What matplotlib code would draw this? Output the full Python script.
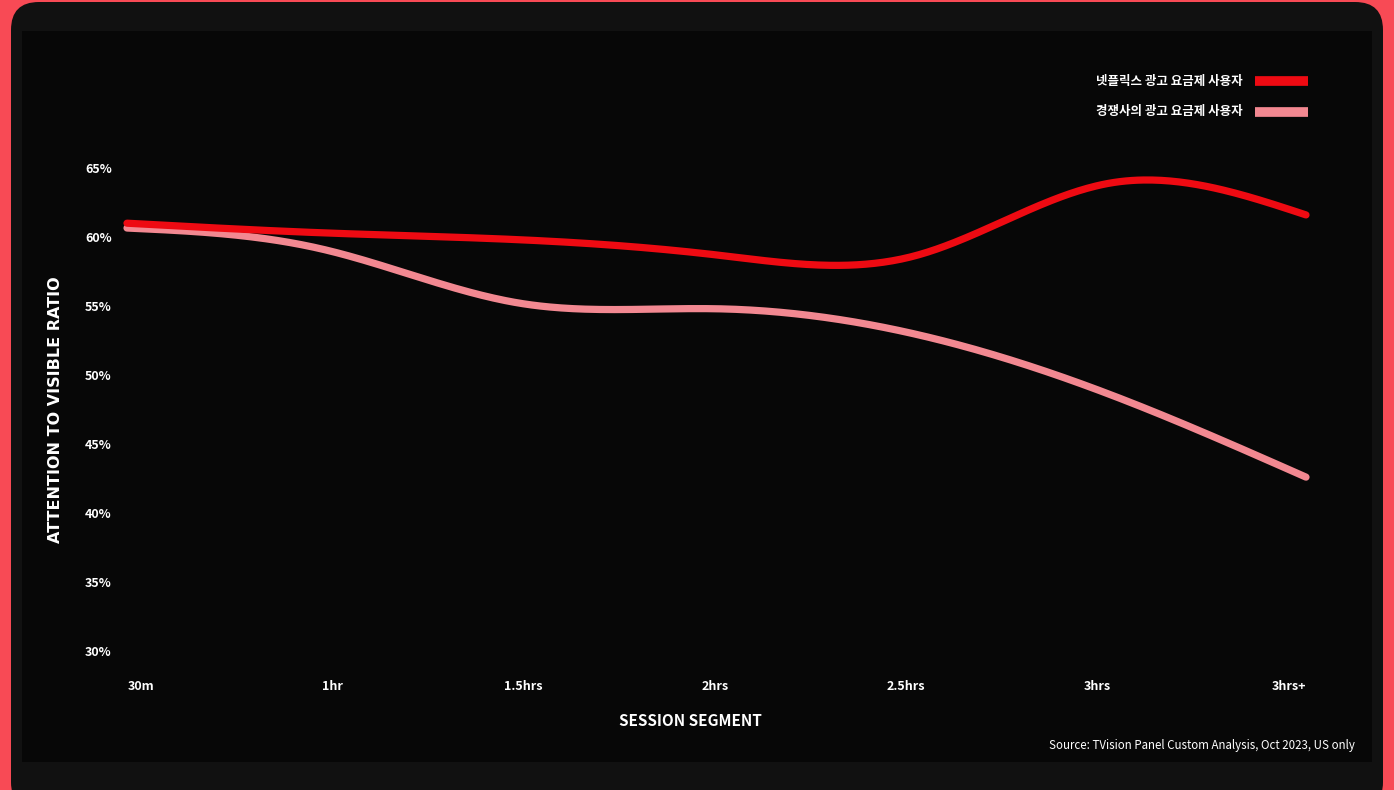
import numpy as np
import matplotlib
matplotlib.use("Agg")
import matplotlib.pyplot as plt
from matplotlib.patches import FancyBboxPatch, Rectangle
from matplotlib.lines import Line2D

plt.rcParams['font.family'] = ['Noto Sans CJK KR', 'DejaVu Sans']

# data
segments = ['30m', '1hr', '1.5hrs', '2hrs', '2.5hrs', '3hrs', '3hrs+']
netflix = [61.0, 60.3, 59.8, 58.7, 58.6, 63.9, 61.6]
rivals = [60.65, 59.1, 55.2, 54.8, 53.0, 48.6, 42.6]
series_names = ['넷플릭스 광고 요금제 사용자', '경쟁사의 광고 요금제 사용자']
yticks = [30, 35, 40, 45, 50, 55, 60, 65]

RED = '#ee0a12'
PINK = '#f28891'


def natural_spline(x, y, n=400):
    # plain natural cubic spline, only used to smooth the drawn line
    x = np.asarray(x, float)
    y = np.asarray(y, float)
    k = len(x)
    h = np.diff(x)
    A = np.zeros((k, k))
    b = np.zeros(k)
    A[0, 0] = 1
    A[-1, -1] = 1
    for i in range(1, k - 1):
        A[i, i - 1] = h[i - 1]
        A[i, i] = 2 * (h[i - 1] + h[i])
        A[i, i + 1] = h[i]
        b[i] = 3 * ((y[i + 1] - y[i]) / h[i] - (y[i] - y[i - 1]) / h[i - 1])
    c = np.linalg.solve(A, b)
    xs = np.linspace(x[0], x[-1], n)
    ys = np.empty_like(xs)
    for j, xv in enumerate(xs):
        i = min(np.searchsorted(x, xv, side='right') - 1, k - 2)
        d = xv - x[i]
        bi = (y[i + 1] - y[i]) / h[i] - h[i] * (2 * c[i] + c[i + 1]) / 3
        di = (c[i + 1] - c[i]) / (3 * h[i])
        ys[j] = y[i] + bi * d + c[i] * d ** 2 + di * d ** 3
    return xs, ys


W, H = 1394, 790
fig = plt.figure(figsize=(W / 100, H / 100), dpi=100)
fig.patch.set_facecolor('#f84a55')

# rounded dark panel and inner black area
fig.add_artist(FancyBboxPatch((11 / W, -20 / H), (1383 - 11) / W, (788 + 20) / H,
                              boxstyle='round,pad=0,rounding_size=0.02',
                              transform=fig.transFigure, facecolor='#111111',
                              edgecolor='none', zorder=0, mutation_aspect=W / H))
fig.add_artist(Rectangle((22 / W, 1 - 762 / H), (1372 - 22) / W, (762 - 31) / H,
                         transform=fig.transFigure, facecolor='#070707',
                         edgecolor='none', zorder=0))

ax = fig.add_axes([127 / W, 1 - 651 / H, (1306 - 127) / W, (651 - 168) / H])
ax.set_facecolor('none')
x = np.arange(len(segments))

for vals, col in [(rivals, PINK), (netflix, RED)]:
    xs, ys = natural_spline(x, vals)
    ax.plot(xs, ys, color=col, lw=5.2, solid_capstyle='round', clip_on=False)

ax.set_xlim(0, len(segments) - 1)
ax.set_ylim(30, 65)
ax.set_yticks(yticks)
ax.set_yticklabels([f'{v}%' for v in yticks])
# labels sit a little inside the line ends in the original
ax.set_xticks(0.07 + 0.974 * x)
ax.set_xticklabels(segments)
ax.tick_params(axis='y', length=0, pad=11, labelsize=9, labelcolor='white')
ax.tick_params(axis='x', length=0, pad=21, labelsize=9, labelcolor='white')
for lab in ax.get_xticklabels() + ax.get_yticklabels():
    lab.set_fontweight('bold')
for s in ax.spines.values():
    s.set_visible(False)

fig.text(56 / W, 1 - 410 / H, 'ATTENTION TO VISIBLE RATIO', rotation=90,
         ha='center', va='center', color='white', fontsize=11.5,
         fontweight='bold', family='DejaVu Sans')
fig.text(690 / W, 1 - 721 / H, 'SESSION SEGMENT', ha='center', va='center',
         color='white', fontsize=11, fontweight='bold')
fig.text(1355 / W, 1 - 745 / H, 'Source: TVision Panel Custom Analysis, Oct 2023, US only',
         ha='right', va='center', color='white', fontsize=8.3)

# legend drawn by hand, swatch on the right
for i, (name, col) in enumerate(zip(series_names, [RED, PINK])):
    yy = 1 - (81 + 31 * i) / H
    fig.text(1243 / W, yy, name, ha='right', va='center', color='white',
             fontsize=9, fontweight='bold')
    fig.add_artist(Line2D([1255 / W, 1308 / W], [yy, yy], color=col, lw=7,
                          solid_capstyle='butt', transform=fig.transFigure))

fig.savefig('out.png', dpi=100, facecolor=fig.get_facecolor())
